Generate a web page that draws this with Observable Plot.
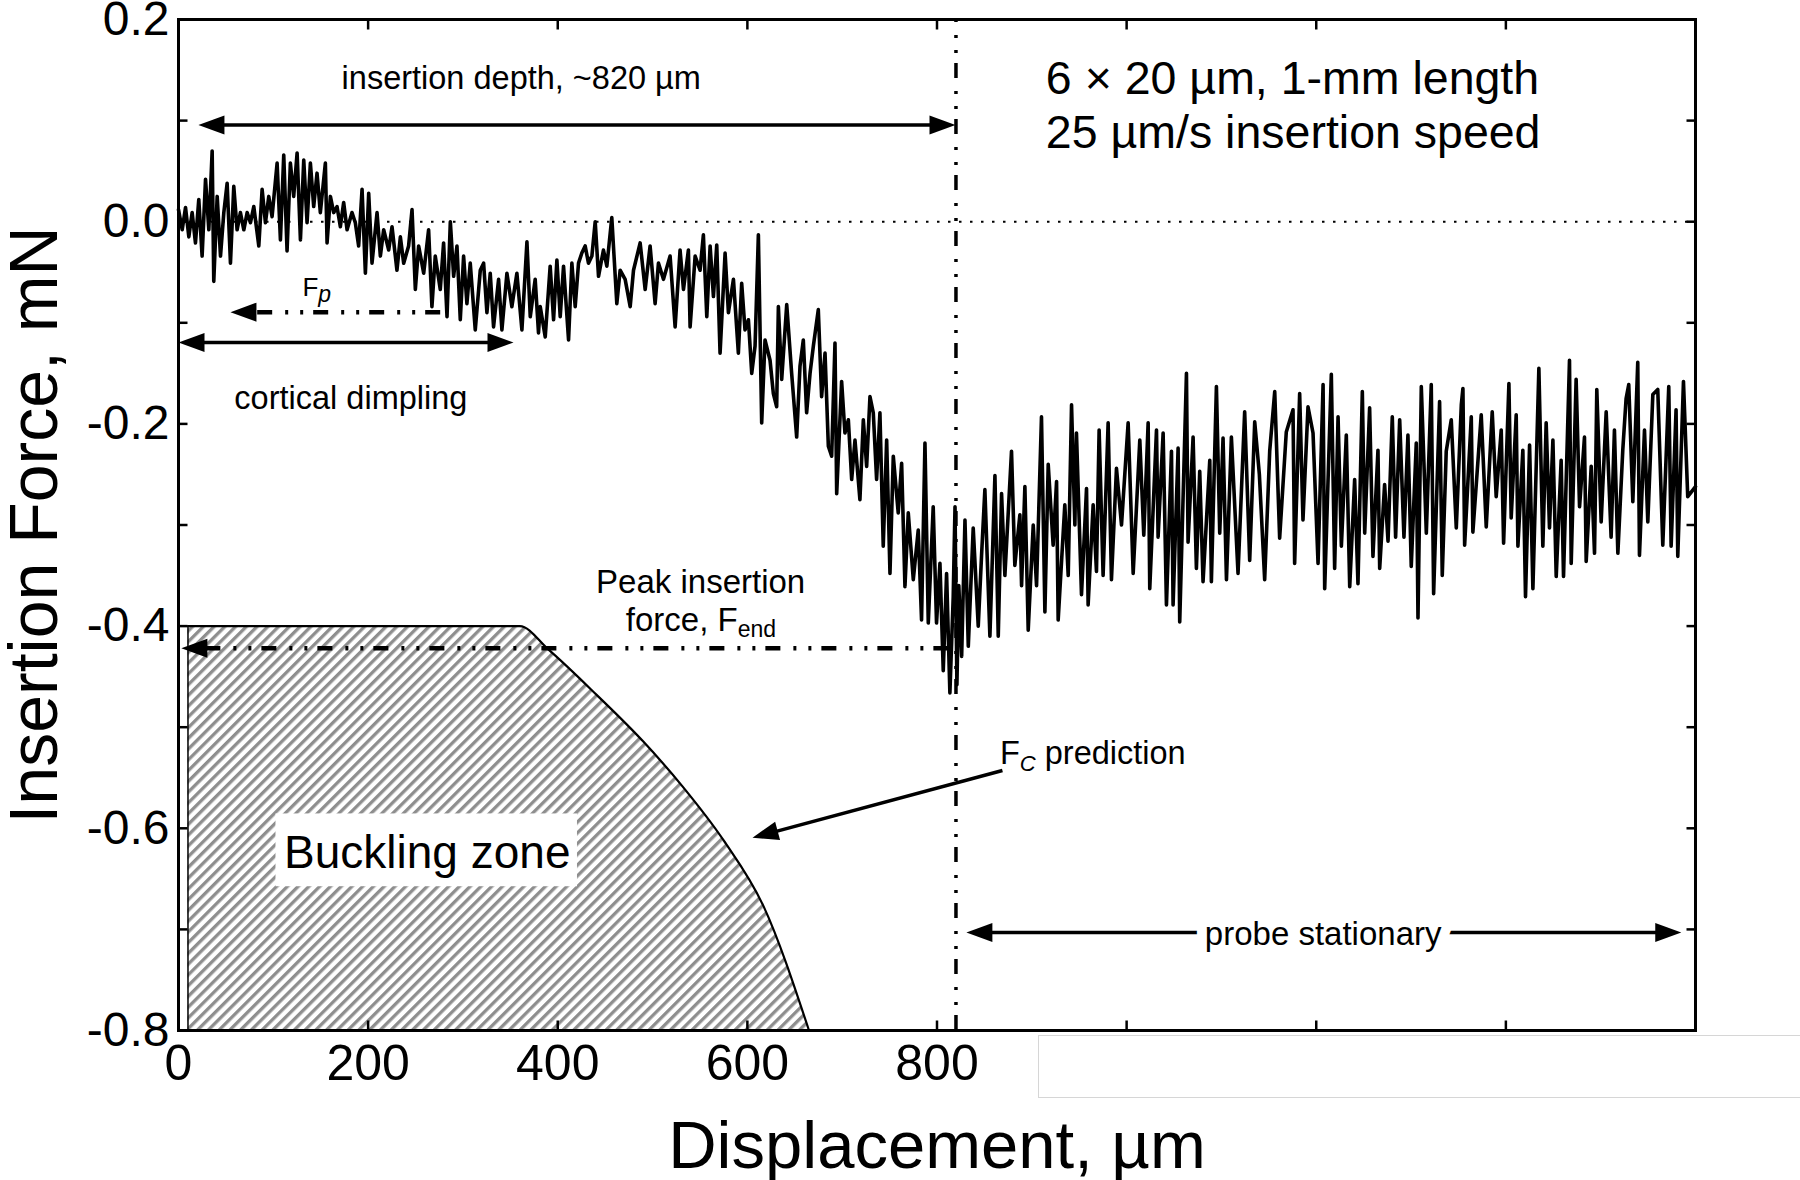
<!DOCTYPE html>
<html>
<head>
<meta charset="utf-8">
<script src="https://cdn.jsdelivr.net/npm/d3@7"></script>
<script src="https://cdn.jsdelivr.net/npm/@observablehq/plot@0.6"></script>
<style>
html, body { margin: 0; padding: 0; background: #fff; overflow: hidden; }
#wrap { position: relative; width: 1800px; height: 1180px; overflow: hidden; background: #fff; }
#wrap svg { position: absolute; left: 0; top: 0; }
#box { position: absolute; left: 1038px; top: 1035px; width: 800px; height: 61px; border: 1px solid #d6d6d6; background: #fff; }
</style>
</head>
<body>
<div id="wrap"></div>
<script>
// ---------------- data ----------------
// displacement (µm), insertion force (mN)
const traceApproach = [
[0,0.012],[3.9,-0.008],[7.4,0.014],[10.9,-0.015],[14.4,0.009],[17.9,-0.021],[21.4,0.022],[24.9,-0.034],[28.5,0.042],[32.0,-0.008],[35.5,0.070],[37.2,-0.059],[40.8,0.025],[44.3,-0.034],[47.8,0.009],[51.3,0.038],[54.8,-0.041],[58.3,0.035],[61.8,-0.008],[65.3,0.009],[68.9,-0.008],[72.4,0.009],[75.9,-0.001],[79.4,0.015],[84.7,-0.024],[88.2,0.032],[91.7,-0.001],[95.2,0.025],[98.7,0.005],[104.0,0.058],[107.5,-0.018],[111.0,0.066],[114.5,-0.029],[118.0,0.058],[121.5,0.025],[125.1,0.068],[128.6,-0.018],[132.1,0.061],[135.6,-0.001],[139.1,0.058],[142.6,0.015],[146.1,0.048],[149.6,0.009],[154.9,0.058],[156.7,-0.021],[160.2,0.025],[163.7,0.009],[167.2,0.015],[170.7,-0.005],[174.2,0.019],[177.8,-0.008],[183.0,0.009],[186.5,-0.001],[190.0,-0.024],[193.6,0.032],[197.1,-0.051],[200.6,0.028],[204.1,-0.041],[209.4,0.009],[212.9,-0.034],[216.4,-0.008],[221.7,-0.028],[225.2,-0.005],[230.4,-0.048],[234.0,-0.015],[237.5,-0.041],[242.7,-0.024],[246.3,0.012],[249.8,-0.067],[253.3,-0.024],[258.6,-0.051],[263.8,-0.008],[267.3,-0.084],[270.8,-0.034],[276.1,-0.067],[279.6,-0.021],[283.2,-0.094],[286.7,0.000],[290.2,-0.054],[293.7,-0.024],[297.2,-0.097],[300.7,-0.034],[304.2,-0.081],[307.7,-0.041],[313.0,-0.107],[318.3,-0.048],[321.8,-0.041],[325.3,-0.090],[328.8,-0.051],[332.3,-0.104],[337.6,-0.057],[341.1,-0.107],[346.4,-0.051],[351.6,-0.084],[356.9,-0.051],[362.2,-0.107],[367.5,-0.020],[371.0,-0.094],[376.2,-0.057],[379.7,-0.110]
];
const traceDescent = [
[381.5,-0.084],[386.8,-0.114],[392.0,-0.044],[395.6,-0.097],[399.1,-0.038],[402.6,-0.094],[406.1,-0.044],[411.4,-0.117],[414.9,-0.041],[418.4,-0.084],[421.9,-0.041],[425.4,-0.031],[428.9,-0.024],[432.4,-0.041],[436.0,-0.034],[439.5,0.000],[443.0,-0.054],[448.2,-0.028],[451.8,-0.044],[457.0,0.004],[462.3,-0.081],[465.8,-0.048],[471.1,-0.057],[476.4,-0.084],[479.9,-0.048],[486.9,-0.021],[492.2,-0.067],[497.4,-0.024],[502.7,-0.081],[506.2,-0.041],[511.5,-0.057],[518.5,-0.034],[523.8,-0.104],[529.0,-0.028],[532.6,-0.067],[537.8,-0.028],[539.6,-0.104],[544.9,-0.034],[550.1,-0.048],[553.6,-0.013],[557.2,-0.094],[560.7,-0.024],[564.2,-0.074],[567.7,-0.023],[571.2,-0.130],[576.5,-0.031],[580.0,-0.090],[585.3,-0.057],[590.5,-0.130],[594.0,-0.061],[597.5,-0.107],[601.1,-0.097],[604.6,-0.150],[608.1,-0.123],[611.6,-0.013],[615.1,-0.199],[618.6,-0.117],[623.9,-0.137],[627.4,-0.170],[630.9,-0.183],[632.7,-0.084],[636.2,-0.156],[641.5,-0.082],[646.7,-0.150],[652.0,-0.213],[655.5,-0.143],[659.0,-0.117],[662.5,-0.189],[666.1,-0.150],[669.6,-0.123],[674.8,-0.087],[678.3,-0.173],[681.9,-0.130],[685.4,-0.222],[688.9,-0.232],[692.4,-0.120],[694.2,-0.269],[699.4,-0.158],[702.9,-0.209],[706.5,-0.196],[710.0,-0.255],[713.5,-0.216],[718.7,-0.275],[722.3,-0.196],[725.8,-0.242],[729.3,-0.173],[732.8,-0.189],[736.3,-0.255],[739.8,-0.189],[743.3,-0.321],[746.9,-0.216],[750.4,-0.348],[753.9,-0.232],[759.1,-0.288],[762.7,-0.239],[766.2,-0.361],[769.7,-0.288],[775.0,-0.354],[780.2,-0.305],[783.7,-0.394],[787.3,-0.219],[790.8,-0.397],[796.0,-0.282],[799.5,-0.397],[803.1,-0.338],[806.6,-0.444],[810.1,-0.348],[813.6,-0.466],[817.1,-0.371]
];
const traceRelaxA = [
[819.0,-0.282],[821.0,-0.458],[823.0,-0.360],[826.0,-0.430],[829.5,-0.295],[833.0,-0.420],[838.2,-0.303],[843.5,-0.400],[847.0,-0.330],[850.5,-0.265],[855.8,-0.410],[861.1,-0.251],[864.6,-0.410],[868.1,-0.269],[871.6,-0.350],[878.6,-0.227],[882.1,-0.340],[887.4,-0.290],[889.2,-0.360],[892.7,-0.262],[896.2,-0.404],[901.5,-0.300],[905.0,-0.360],[910.2,-0.193],[913.8,-0.386],[917.3,-0.240],[922.5,-0.320],[926.1,-0.257],[927.8,-0.394],[934.8,-0.280],[938.4,-0.350],[941.9,-0.181],[945.4,-0.300],[947.1,-0.209],[952.4,-0.369],[957.7,-0.264],[959.4,-0.379],[964.7,-0.280],[968.2,-0.346],[971.0,-0.206],[975.2,-0.350],[980.5,-0.199],[984.0,-0.354],[989.3,-0.244],[994.6,-0.300],[1001.6,-0.199],[1006.9,-0.348],[1013.9,-0.216],[1018.1,-0.310],[1022.7,-0.199],[1024.4,-0.363],[1031.5,-0.206],[1033.2,-0.312],[1038.5,-0.209],[1042.0,-0.379],[1047.3,-0.227],[1049.0,-0.379],[1054.3,-0.224],[1056.0,-0.396],[1063.1,-0.150],[1064.8,-0.317],[1070.1,-0.213],[1073.6,-0.343],[1077.1,-0.247],[1080.6,-0.356],[1087.7,-0.236],[1089.4,-0.356],[1094.7,-0.163],[1098.2,-0.308],[1101.7,-0.214],[1105.3,-0.354],[1110.5,-0.213],[1117.5,-0.348],[1124.5,-0.188],[1129.8,-0.335],[1135.1,-0.198],[1140.0,-0.250],[1145.6,-0.354],[1150.9,-0.227],[1156.2,-0.168],[1161.4,-0.313],[1168.4,-0.208],[1175.5,-0.186],[1177.2,-0.338],[1182.5,-0.170],[1186.0,-0.295],[1191.3,-0.183]
];
const traceRelaxB = [
[1196.6,-0.209],[1201.9,-0.338],[1207.2,-0.161],[1208.9,-0.363],[1215.9,-0.151],[1219.4,-0.343],[1223.0,-0.193],[1226.5,-0.321],[1231.7,-0.211],[1235.3,-0.361],[1240.5,-0.255],[1244.0,-0.358],[1248.6,-0.168],[1251.1,-0.308],[1256.3,-0.184],[1259.8,-0.331],[1265.1,-0.226],[1266.9,-0.343],[1272.1,-0.260],[1275.7,-0.316],[1280.2,-0.193],[1283.7,-0.312],[1288.0,-0.196],[1292.5,-0.312],[1296.7,-0.211],[1300.2,-0.341],[1305.5,-0.219],[1307.3,-0.392],[1310.8,-0.163],[1316.1,-0.308],[1321.3,-0.161],[1323.8,-0.368],[1330.1,-0.178],[1332.9,-0.350],[1337.1,-0.227],[1342.4,-0.196],[1347.7,-0.303],[1353.0,-0.181],[1354.7,-0.165],[1356.5,-0.320],[1363.5,-0.193],[1365.2,-0.307],[1374.0,-0.191],[1379.3,-0.302],[1385.6,-0.188],[1389.8,-0.272],[1395.1,-0.206],[1397.6,-0.318],[1403.2,-0.160],[1405.6,-0.293],[1410.9,-0.191],[1412.7,-0.321],[1417.9,-0.226],[1420.7,-0.371],[1425.0,-0.221],[1428.5,-0.363],[1434.8,-0.145],[1439.0,-0.321],[1442.5,-0.199],[1446.0,-0.303],[1449.6,-0.216],[1453.1,-0.351],[1458.3,-0.236],[1460.8,-0.351],[1467.1,-0.137],[1468.9,-0.338],[1474.1,-0.156],[1477.7,-0.282],[1482.9,-0.213],[1484.7,-0.336],[1490.0,-0.242],[1493.5,-0.328],[1495.9,-0.166],[1500.5,-0.297],[1505.8,-0.188],[1511.0,-0.312],[1514.5,-0.206],[1518.1,-0.328],[1523.3,-0.226],[1526.8,-0.175],[1529.6,-0.161],[1533.9,-0.277],[1539.1,-0.139],[1540.9,-0.330],[1546.2,-0.206],[1549.7,-0.297],[1555.0,-0.171],[1560.2,-0.166],[1565.5,-0.320],[1571.8,-0.163],[1574.3,-0.321],[1579.5,-0.186],[1581.3,-0.331],[1587.3,-0.158],[1591.8,-0.272],[1600.0,-0.262]
];

// buckling-zone boundary (predicted critical force)
const bucklingDisp  = [10, 360, 390, 441, 490, 532, 575, 617, 665];
const bucklingForce = [-0.4, -0.4, -0.423, -0.468, -0.514, -0.559, -0.612, -0.677, -0.8];

// axes
const xDomain = [0, 1600];
const yDomain = [-0.8, 0.2];
const xTicks = [0, 200, 400, 600, 800, 1000, 1200, 1400, 1600];
const xTickLabels = [0, 200, 400, 600, 800];
const yTicks = [-0.8, -0.7, -0.6, -0.5, -0.4, -0.3, -0.2, -0.1, 0, 0.1, 0.2];
const yTickLabels = [-0.8, -0.6, -0.4, -0.2, 0, 0.2];

// annotation values
const insertionDepth = 820;
const peakForce = -0.422;
const dimplingForce = -0.0895;

const annotationArrows = [
  {x1: 21, y1: 0.0957, x2: 819.5, y2: 0.0957, both: true, dashed: false},
  {x1: 0, y1: -0.1195, x2: 353.3, y2: -0.1195, both: true, dashed: false},
  {x1: 276, y1: dimplingForce, x2: 54.8, y2: dimplingForce, both: false, dashed: true},
  {x1: 812, y1: peakForce, x2: 3, y2: peakForce, both: false, dashed: true},
  {x1: 869, y1: -0.5428, x2: 605.4, y2: -0.6093, both: false, dashed: false},
  {x1: 831, y1: -0.703, x2: 1585, y2: -0.703, both: true, dashed: false}
];

const annotationText = [
  {text: "insertion depth, ~820 µm", x: 361.5, y: 0.131, anchor: "middle", size: 32.5},
  {text: "cortical dimpling", x: 181.8, y: -0.1853, anchor: "middle", size: 32.5},
  {text: "F_[p]", x: 130.7, y: -0.073, anchor: "start", size: 26},
  {text: "Peak insertion", x: 550.7, y: -0.3675, anchor: "middle", size: 33},
  {text: "force, F_{end}", x: 551, y: -0.4044, anchor: "middle", size: 33},
  {text: "F_[C] prediction", x: 866.4, y: -0.536, anchor: "start", size: 32.5},
  {text: "6 × 20 µm, 1-mm length", x: 914.8, y: 0.126, anchor: "start", size: 46.5},
  {text: "25 µm/s insertion speed", x: 914.8, y: 0.0731, anchor: "start", size: 46.5},
  {text: "Buckling zone", x: 262.4, y: -0.6388, anchor: "middle", size: 46}
];
const stationaryLabel = {text: "probe stationary", x: 1207.3, y: -0.715};
const bucklingLabelBox = {x1: 102.8, x2: 420.8, y1: -0.5858, y2: -0.6578};

// ---------------- layout ----------------
const W = 1800, H = 1180;
const mL = 178, mR = 105, mT = 19, mB = 150;
const kx = (W - mL - mR) / (xDomain[1] - xDomain[0]);
const ky = (H - mT - mB) / (yDomain[1] - yDomain[0]);
const FONT = '"Liberation Sans", Arial, Helvetica, sans-serif';
const DASHDOT = "15,10,3,12,3,13";

const trace = [...traceApproach, ...traceDescent, ...traceRelaxA, ...traceRelaxB].map(([x, y]) => ({x, y}));
const buckling = bucklingDisp.map((x, i) => ({x, y: bucklingForce[i]}));

// arrow heads (filled, pointing "up" at rotate 0, tip at origin)
const arrowHead = {
  draw(ctx, size) {
    const r = Math.sqrt(size / Math.PI);
    const L = 2.6 * r, w = 0.95 * r;
    ctx.moveTo(0, 0); ctx.lineTo(w, L); ctx.lineTo(-w, L); ctx.closePath();
  }
};
function angleDeg(x1, y1, x2, y2) {
  const dx = (x2 - x1) * kx, dy = -(y2 - y1) * ky;
  return Math.atan2(dx, -dy) * 180 / Math.PI;
}
function shorten(x1, y1, x2, y2, px) {
  const dx = (x2 - x1) * kx, dy = (y2 - y1) * ky;
  const len = Math.hypot(dx, dy);
  const t = px / len;
  return [x2 - (x2 - x1) * t, y2 - (y2 - y1) * t];
}
const heads = [];
const shafts = [];
for (const a of annotationArrows) {
  heads.push({x: a.x2, y: a.y2, angle: angleDeg(a.x1, a.y1, a.x2, a.y2)});
  let [ex, ey] = shorten(a.x1, a.y1, a.x2, a.y2, 14);
  let sx = a.x1, sy = a.y1;
  if (a.both) {
    heads.push({x: a.x1, y: a.y1, angle: angleDeg(a.x2, a.y2, a.x1, a.y1)});
    [sx, sy] = shorten(a.x2, a.y2, a.x1, a.y1, 14);
  }
  shafts.push({x1: sx, y1: sy, x2: ex, y2: ey, dashed: a.dashed});
}

// ticks drawn inward
const tickLenX = 10 / ky, tickLenY = 9 / kx;
const ticksBottom = xTicks.map(x => ({x1: x, x2: x, y1: yDomain[0], y2: yDomain[0] + tickLenX}));
const ticksTop = xTicks.map(x => ({x1: x, x2: x, y1: yDomain[1], y2: yDomain[1] - tickLenX}));
const ticksLeft = yTicks.map(y => ({x1: xDomain[0], x2: xDomain[0] + tickLenY, y1: y, y2: y}));
const ticksRight = yTicks.map(y => ({x1: xDomain[1], x2: xDomain[1] - tickLenY, y1: y, y2: y}));
const allTicks = [...ticksBottom, ...ticksTop, ...ticksLeft, ...ticksRight];

const marks = [
  // buckling zone
  Plot.areaY(buckling, {x: "x", y1: yDomain[0], y2: "y", fill: "url(#hatch)", curve: "monotone-x"}),
  Plot.line(buckling, {x: "x", y: "y", stroke: "black", strokeWidth: 2.2, curve: "monotone-x"}),
  Plot.ruleX([bucklingDisp[0]], {y1: yDomain[0], y2: bucklingForce[0], stroke: "black", strokeWidth: 1.5}),
  Plot.rect([bucklingLabelBox], {x1: "x1", x2: "x2", y1: "y1", y2: "y2", fill: "white"}),
  // reference lines
  Plot.ruleY([0], {stroke: "black", strokeWidth: 2, strokeDasharray: "2.5,8.5"}),
  Plot.ruleX([insertionDepth], {y1: yDomain[0], y2: yDomain[1], stroke: "black", strokeWidth: 3.5, strokeDasharray: DASHDOT}),
  // force trace
  Plot.line(trace, {x: "x", y: "y", stroke: "black", strokeWidth: 3.6, strokeLinejoin: "round"}),
  // arrows
  Plot.link(shafts.filter(d => !d.dashed), {x1: "x1", y1: "y1", x2: "x2", y2: "y2", stroke: "black", strokeWidth: 3.5}),
  Plot.link(shafts.filter(d => d.dashed), {x1: "x1", y1: "y1", x2: "x2", y2: "y2", stroke: "black", strokeWidth: 4.5, strokeDasharray: DASHDOT}),
  Plot.dot(heads, {x: "x", y: "y", rotate: "angle", symbol: arrowHead, r: 10, fill: "black", stroke: "none"}),
  // frame and ticks
  Plot.frame({stroke: "black", strokeWidth: 3}),
  Plot.link(allTicks, {x1: "x1", y1: "y1", x2: "x2", y2: "y2", stroke: "black", strokeWidth: 2.5}),
  Plot.axisX(xTickLabels, {anchor: "bottom", tickSize: 0, tickPadding: 14, fontSize: 50, label: null}),
  Plot.axisY(yTickLabels, {anchor: "left", tickSize: 0, tickPadding: 9, fontSize: 48, label: null, tickFormat: d => d.toFixed(1)}),
  // axis titles
  Plot.text(["Displacement, µm"], {frameAnchor: "bottom", dy: 137, textAnchor: "middle", lineAnchor: "bottom", fontSize: 67, text: d => d, fill: "black"}),
  Plot.text(["Insertion Force, mN"], {frameAnchor: "left", dx: -122, rotate: -90, textAnchor: "middle", lineAnchor: "bottom", fontSize: 68, text: d => d, fill: "black"}),
  // probe stationary (with a white halo covering the arrow shaft)
  Plot.text([stationaryLabel], {x: "x", y: "y", text: "text", fontSize: 33, lineAnchor: "bottom", textAnchor: "middle", fill: "black", stroke: "white", strokeWidth: 20, paintOrder: "stroke"}),
  // annotation texts
  ...annotationText.map(l => Plot.text([l], {x: "x", y: "y", text: "text", textAnchor: l.anchor, lineAnchor: "bottom", fontSize: l.size, fill: "black"}))
];

const svg = Plot.plot({
  width: W, height: H,
  marginLeft: mL, marginRight: mR, marginTop: mT, marginBottom: mB,
  x: {domain: xDomain},
  y: {domain: yDomain},
  style: {fontFamily: FONT, background: "white", color: "black", overflow: "visible"},
  marks
});

// hatch pattern definition
const NS = "http://www.w3.org/2000/svg";
const defs = document.createElementNS(NS, "defs");
const pat = document.createElementNS(NS, "pattern");
pat.setAttribute("id", "hatch");
pat.setAttribute("patternUnits", "userSpaceOnUse");
pat.setAttribute("width", "7.6");
pat.setAttribute("height", "7.6");
pat.setAttribute("patternTransform", "rotate(45)");
const bg = document.createElementNS(NS, "rect");
bg.setAttribute("width", "7.6"); bg.setAttribute("height", "7.6"); bg.setAttribute("fill", "white");
const stripe = document.createElementNS(NS, "rect");
stripe.setAttribute("x", "0"); stripe.setAttribute("y", "0");
stripe.setAttribute("width", "3.3"); stripe.setAttribute("height", "7.6");
stripe.setAttribute("fill", "#8e8e8e");
pat.appendChild(bg); pat.appendChild(stripe);
defs.appendChild(pat);
svg.insertBefore(defs, svg.firstChild);

// subscripts: _{...} regular, _[...] italic
const subStyle = {end: {size: 23, shift: 6}, C: {size: 22, shift: 7}, p: {size: 23, shift: 6}};
svg.querySelectorAll("text").forEach(el => {
  const s = el.textContent;
  const m = s.match(/^(.*?)_([\{\[])(.*?)[\}\]](.*)$/);
  if (!m) return;
  const st = subStyle[m[3]] || {size: 22, shift: 6};
  while (el.firstChild) el.removeChild(el.firstChild);
  el.setAttribute("style", "white-space: pre");
  const t1 = document.createElementNS(NS, "tspan"); t1.textContent = m[1]; el.appendChild(t1);
  const t2 = document.createElementNS(NS, "tspan"); t2.textContent = m[3];
  t2.setAttribute("font-size", st.size); t2.setAttribute("dy", st.shift);
  if (m[2] === "[") t2.setAttribute("font-style", "italic");
  el.appendChild(t2);
  if (m[4]) {
    const t3 = document.createElementNS(NS, "tspan"); t3.textContent = m[4];
    t3.setAttribute("dy", -st.shift); el.appendChild(t3);
  }
});

const wrap = document.getElementById("wrap");
wrap.appendChild(svg);
const box = document.createElement("div");
box.id = "box";
wrap.appendChild(box);
</script>
</body>
</html>
